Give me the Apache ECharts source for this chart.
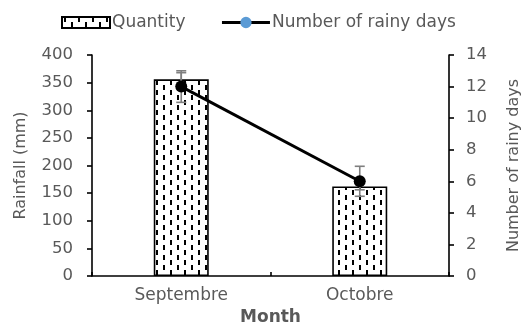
<!DOCTYPE html>
<html>
<head>
<meta charset="utf-8">
<script src="https://cdn.jsdelivr.net/npm/echarts@6/dist/echarts.min.js"></script>
<style>
  html, body { margin: 0; padding: 0; background: #fff; }
  #chart { width: 521px; height: 325px; }
</style>
</head>
<body>
<div id="chart"></div>
<script>
// Monthly rainfall and rainy days
const months = ['Septembre', 'Octobre'];
const quantity = [356, 162];        // rainfall, mm
const quantityErr = [12, 6];        // ± error, mm
const rainyDays = [12, 6];          // number of rainy days
const rainyDaysErr = [1, 0.95];     // ± error, days
const rainfallTicks = [0, 50, 100, 150, 200, 250, 300, 350, 400];
const dayTicks = [0, 2, 4, 6, 8, 10, 12, 14];

const FONT = 'DejaVu Sans';
const TXT = '#595959';

// dotted fill: staggered columns of short vertical dashes
function makeDashPattern() {
  const c = document.createElement('canvas');
  c.width = 14; c.height = 10;
  const g = c.getContext('2d');
  g.fillStyle = '#fff';
  g.fillRect(0, 0, 14, 10);
  g.fillStyle = '#000';
  g.fillRect(2, 0, 2, 5);
  g.fillRect(9, 5, 2, 5);
  return c;
}
const pattern = { image: makeDashPattern(), repeat: 'repeat' };

function errorBars(params, api) {
  const x = api.value(0), v = api.value(1), e = api.value(2);
  const top = api.coord([x, v + e]);
  const bot = api.coord([x, v - e]);
  const hw = 5;
  const style = { stroke: '#7f7f7f', lineWidth: 1.6 };
  return {
    type: 'group',
    children: [
      { type: 'line', shape: { x1: top[0], y1: top[1], x2: bot[0], y2: bot[1] }, style },
      { type: 'line', shape: { x1: top[0] - hw, y1: top[1], x2: top[0] + hw, y2: top[1] }, style },
      { type: 'line', shape: { x1: bot[0] - hw, y1: bot[1], x2: bot[0] + hw, y2: bot[1] }, style }
    ]
  };
}

const chart = echarts.init(document.getElementById('chart'), null, { renderer: 'canvas' });
chart.setOption({
  animation: false,
  backgroundColor: '#fff',
  textStyle: { fontFamily: FONT },
  legend: {
    top: 9,
    left: 56,
    itemGap: 35,
    itemWidth: 48,
    itemHeight: 11,
    textStyle: { fontFamily: FONT, fontSize: 17, color: TXT, padding: [0, 0, 0, -3] },
    data: [
      { name: 'Quantity', icon: 'rect' },
      {
        name: 'Number of rainy days',
        itemStyle: { color: '#5B9BD5', borderColor: '#5B9BD5', borderWidth: 2.5 },
        lineStyle: { color: '#000', width: 3 }
      }
    ]
  },
  grid: { left: 92, right: 72, top: 55, bottom: 49, outerBoundsMode: 'none', containLabel: false },
  xAxis: {
    type: 'category',
    data: months,
    name: 'Month',
    nameLocation: 'middle',
    nameGap: 33,
    nameTextStyle: { fontFamily: FONT, fontSize: 17, fontWeight: 'bold', color: TXT },
    axisLine: { lineStyle: { color: '#000', width: 1.6 } },
    axisTick: { show: true, inside: true, length: 4, lineStyle: { color: '#000', width: 1.6 } },
    axisLabel: { fontFamily: FONT, fontSize: 17, color: TXT, margin: 11 }
  },
  yAxis: [
    {
      type: 'value',
      min: rainfallTicks[0],
      max: rainfallTicks[rainfallTicks.length - 1],
      interval: rainfallTicks[1] - rainfallTicks[0],
      name: 'Rainfall (mm)',
      nameLocation: 'middle',
      nameRotate: 90,
      nameGap: 63,
      nameTextStyle: { fontFamily: FONT, fontSize: 16, color: TXT },
      splitLine: { show: false },
      axisLine: { show: true, lineStyle: { color: '#000', width: 1.6 } },
      axisTick: { show: true, length: 5, lineStyle: { color: '#000', width: 1.6 } },
      axisLabel: { fontFamily: FONT, fontSize: 16.5, color: TXT, margin: 19 }
    },
    {
      type: 'value',
      position: 'right',
      min: dayTicks[0],
      max: dayTicks[dayTicks.length - 1],
      interval: dayTicks[1] - dayTicks[0],
      name: 'Number of rainy days',
      nameLocation: 'middle',
      nameRotate: 90,
      nameGap: 57,
      nameTextStyle: { fontFamily: FONT, fontSize: 16, color: TXT },
      splitLine: { show: false },
      axisLine: { show: true, lineStyle: { color: '#000', width: 1.6 } },
      axisTick: { show: true, length: 5, lineStyle: { color: '#000', width: 1.6 } },
      axisLabel: { fontFamily: FONT, fontSize: 16.5, color: TXT, margin: 17 }
    }
  ],
  series: [
    {
      name: 'Quantity',
      type: 'bar',
      yAxisIndex: 0,
      barWidth: 55,
      data: quantity,
      itemStyle: { color: pattern, borderColor: '#000', borderWidth: 1.6 },
      z: 2
    },
    {
      name: 'Quantity error',
      type: 'custom',
      yAxisIndex: 0,
      renderItem: errorBars,
      encode: { x: 0, y: 1 },
      data: months.map((m, i) => [i, quantity[i], quantityErr[i]]),
      z: 3
    },
    {
      name: 'Rainy days error',
      type: 'custom',
      yAxisIndex: 1,
      renderItem: errorBars,
      encode: { x: 0, y: 1 },
      data: months.map((m, i) => [i, rainyDays[i], rainyDaysErr[i]]),
      z: 3
    },
    {
      name: 'Number of rainy days',
      type: 'line',
      yAxisIndex: 1,
      data: rainyDays,
      symbol: 'circle',
      symbolSize: 12,
      lineStyle: { color: '#000', width: 3 },
      itemStyle: { color: '#000' },
      z: 4
    }
  ]
});
</script>
</body>
</html>
